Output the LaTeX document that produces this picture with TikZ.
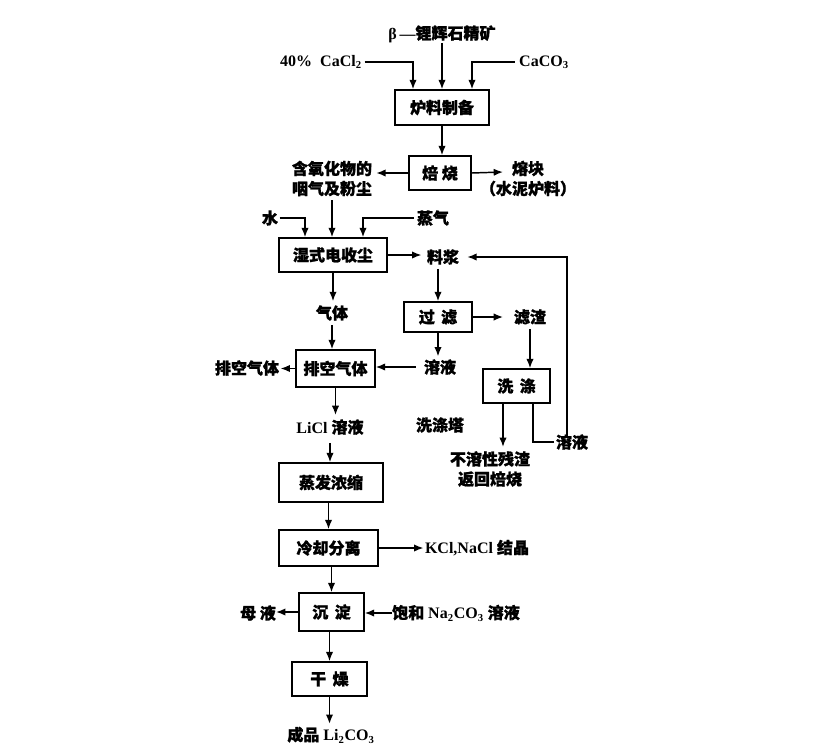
\documentclass[tikz,border=0pt]{standalone}
\usepackage{fontspec}
\setmainfont{Liberation Serif}
\newfontfamily\cjk{Noto Sans CJK SC}[FakeBold=1.2]
\newcommand{\zh}[1]{{\cjk\bfseries #1}}
\usetikzlibrary{arrows.meta,calc}
\begin{document}
\begin{tikzpicture}[x=0.75pt,y=-0.75pt,
  every node/.style={font=\bfseries\fontsize{12}{14}\selectfont},
  bx/.style={draw,line width=1.1pt,inner sep=0pt,align=center},
  lbl/.style={inner sep=0pt,align=center},
  arr/.style={line width=1.1pt,-{Latex[length=7pt,width=5.5pt]}},
  ln/.style={line width=1.1pt}]
\useasboundingbox (0,0) rectangle (819,747);
% boxes
\node[bx,minimum width=94*0.75pt,minimum height=35*0.75pt] (prep) at (442,107.5) {\zh{炉料制备}};
\node[bx,minimum width=62*0.75pt,minimum height=34*0.75pt] (roast) at (440,173) {\zh{焙 烧}};
\node[bx,minimum width=108*0.75pt,minimum height=34*0.75pt] (wet) at (333,255) {\zh{湿式电收尘}};
\node[bx,minimum width=68*0.75pt,minimum height=30*0.75pt] (filt) at (438,317) {\zh{过 \,滤}};
\node[bx,minimum width=79*0.75pt,minimum height=37*0.75pt] (exh) at (335.5,368.5) {\zh{排空气体}};
\node[bx,minimum width=67*0.75pt,minimum height=34*0.75pt] (wash) at (516.5,386) {\zh{洗 \,涤}};
\node[bx,minimum width=104*0.75pt,minimum height=39*0.75pt] (evap) at (331,482.5) {\zh{蒸发浓缩}};
\node[bx,minimum width=99*0.75pt,minimum height=36*0.75pt] (cool) at (328.5,548) {\zh{冷却分离}};
\node[bx,minimum width=65*0.75pt,minimum height=38*0.75pt] (prec) at (331.5,612) {\zh{沉 \,淀}};
\node[bx,minimum width=75*0.75pt,minimum height=34*0.75pt] (dry) at (329.5,679) {\zh{干 \,燥}};
% labels
\node[lbl] (ore) at (442,34) {β\,—\zh{锂辉石精矿}};
\node[lbl] (cacl) at (321,62) {40\%\ \ CaCl\textsubscript{2}};
\node[lbl] (caco) at (544,62) {CaCO\textsubscript{3}};
\node[lbl] (oxide) at (332,178.5) {\zh{含氧化物的}\\[1pt]\zh{咽气及粉尘}};
\node[lbl] (clinker) at (528,178.5) {\zh{熔块}\\[1pt]\zh{（水泥炉料）}};
\coordinate (clk) at (503,172);
\node[lbl] (water) at (270,218) {\zh{水}};
\node[lbl] (steam) at (433,218) {\zh{蒸气}};
\node[lbl] (slurry) at (443,257) {\zh{料浆}};
\node[lbl] (gas) at (332,313) {\zh{气体}};
\node[lbl] (vent) at (247,368) {\zh{排空气体}};
\node[lbl] (sol1) at (440,367) {\zh{溶液}};
\node[lbl] (residue) at (530,317) {\zh{滤渣}};
\node[lbl] (tower) at (440,425) {\zh{洗涤塔}};
\node[lbl] (lic) at (330,427) {LiCl \zh{溶液}};
\node[lbl] (insol) at (490,469) {\zh{不溶性残渣}\\[1pt]\zh{返回焙烧}};
\node[lbl] (sol2) at (572,442) {\zh{溶液}};
\node[lbl] (kcl) at (477,548) {KCl,NaCl \zh{结晶}};
\node[lbl] (mother) at (258,613) {\zh{母 液}};
\node[lbl] (soda) at (456,613) {\zh{饱和} Na\textsubscript{2}CO\textsubscript{3} \zh{溶液}};
\node[lbl] (prod) at (331,735) {\zh{成品} Li\textsubscript{2}CO\textsubscript{3}};
% connectors
\draw[arr] (ore) -- (prep);
\draw[arr] ([xshift=2pt]cacl.east) -| ($(prep.north)+(-29,0)$);
\draw[arr] ([xshift=-3pt]caco.west) -| ($(prep.north)+(30,0)$);
\draw[arr] (prep.south) -- (prep.south |- roast.north);
\draw[arr,shorten >=3pt] (roast.west) -- (roast.west -| oxide.east);
\draw[arr] (roast.east) -- (clk);
\draw[arr] ([yshift=-3pt]oxide.south) -- (oxide.south |- wet.north);
\draw[arr] ([xshift=1pt]water.east) -| ($(wet.north)+(-28,0)$);
\draw[arr] ([xshift=-2pt]steam.west) -| ($(wet.north)+(30,0)$);
\draw[arr,shorten >=4pt] (wet.east) -- (wet.east -| slurry.west);
\draw[arr] ([yshift=-3pt]slurry.south -| filt.north) -- (filt.north);
\draw[arr,shorten >=3pt] (wet.south) -- (wet.south |- gas.north);
\draw[arr,shorten <=3pt] (gas.south) -- (gas.south |- exh.north);
\draw[arr,shorten >=1pt] (exh.west) -- (exh.west -| vent.east);
\draw[arr,shorten <=6pt] (sol1.west) -- (sol1.west -| exh.east);
\draw[arr,shorten >=2pt] (filt.south) -- (filt.south |- sol1.north);
\draw[arr,shorten >=8pt] (filt.east) -- (filt.east -| residue.west);
\draw[arr,shorten <=3pt] (residue.south) -- (residue.south |- wash.north);
\draw[arr,shorten >=3pt] ($(wash.south)+(-13.5,0)$) coordinate (w1) -- (w1 |- insol.north);
\draw[ln] ($(wash.south)+(16.5,0)$) |- ([xshift=-1pt]sol2.west);
\draw[arr,shorten >=6pt] ([yshift=-3pt]$(sol2.north)+(-5,0)$) |- (slurry.east);
\draw[arr,shorten >=3pt] (exh.south) -- (exh.south |- lic.north);
\draw[arr,shorten <=6pt] (lic.south) -- (lic.south |- evap.north);
\draw[arr] (evap.south -| cool.north) -- (cool.north);
\draw[arr,shorten >=1pt] (cool.east) -- (cool.east -| kcl.west);
\draw[arr] (cool.south -| prec.north) -- (prec.north);
\draw[arr] (prec.west) -- (prec.west -| mother.east);
\draw[arr] (soda.west) -- (soda.west -| prec.east);
\draw[arr] (prec.south -| dry.north) -- (dry.north);
\draw[arr,shorten >=2pt] (dry.south) -- (dry.south |- prod.north);
\end{tikzpicture}
\end{document}
